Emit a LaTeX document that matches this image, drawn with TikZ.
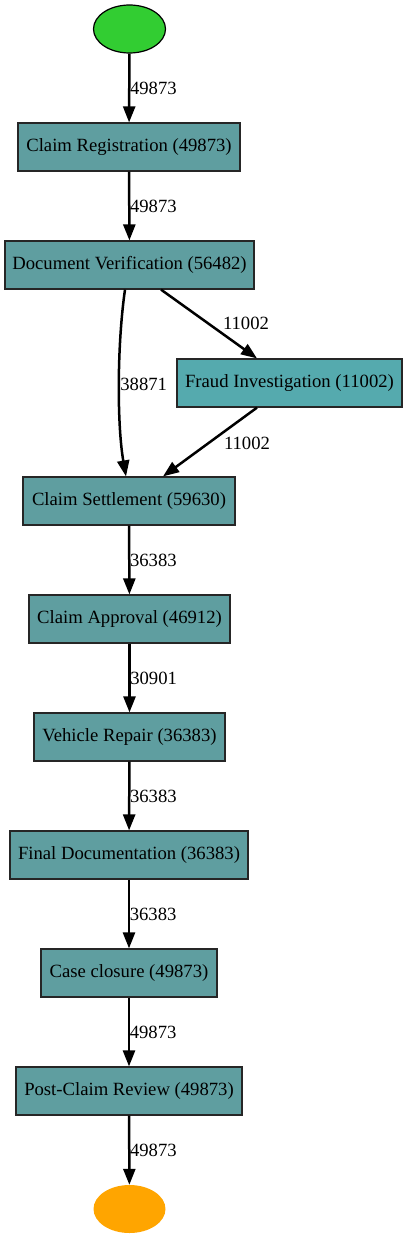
\documentclass[tikz,border=0pt]{standalone}
\usepackage{fontspec}
\setmainfont{Liberation Serif}
\usetikzlibrary{arrows.meta,shapes.geometric}
\definecolor{cadet}{HTML}{5F9EA0}
\definecolor{fraudc}{HTML}{55AAAE}
\definecolor{startc}{HTML}{32CD32}
\definecolor{endc}{HTML}{FFA500}
\begin{document}
\begin{tikzpicture}[x=1pt,y=-1pt,
  font=\fontsize{18.67}{22}\selectfont,
  act/.style={draw=black!85,line width=1.2pt,fill=cadet,minimum height=48pt,inner sep=0pt,text=black},
  flow/.style={line width=2.5pt,-{Triangle[length=16pt,width=12pt]}},
  lab/.style={inner sep=0pt,anchor=west}]
\useasboundingbox (0,0) rectangle (407,1239);
\node[ellipse,draw=black,line width=1.2pt,fill=startc,minimum width=72pt,minimum height=48pt,inner sep=0pt] (start) at (129.5,29) {};
\node[act,minimum width=222pt] (cr) at (129,147) {Claim Registration (49873)};
\node[act,minimum width=249pt] (dv) at (129.5,265) {Document Verification (56482)};
\node[act,fill=fraudc,minimum width=225pt] (fi) at (289.5,383) {Fraud Investigation (11002)};
\node[act,minimum width=212pt] (cs) at (129,501) {Claim Settlement (59630)};
\node[act,minimum width=201pt] (ca) at (129.5,619) {Claim Approval (46912)};
\node[act,minimum width=191pt] (vr) at (129.5,737) {Vehicle Repair (36383)};
\node[act,minimum width=238pt] (fd) at (129,855) {Final Documentation (36383)};
\node[act,minimum width=176pt] (cc) at (129,973) {Case closure (49873)};
\node[act,minimum width=226pt] (pcr) at (129,1091) {Post-Claim Review (49873)};
\node[ellipse,fill=endc,minimum width=72pt,minimum height=48pt,inner sep=0pt] (end) at (129.5,1209) {};

\draw[flow] (start) -- (cr) node[lab,pos=0.5,xshift=-0.5pt] {49873};
\draw[flow] (cr) -- (dv) node[lab,pos=0.5,xshift=-0.5pt] {49873};
\draw[flow] ([xshift=-4.5pt]dv.south) .. controls (117,345) and (117,425) .. ([xshift=-3pt]cs.north) node[lab,pos=0.5,xshift=0pt] {38871};
\draw[flow] ([xshift=31.5pt]dv.south) -- ([xshift=-32.5pt]fi.north) node[pos=0.5,xshift=37pt,yshift=1pt,inner sep=0pt] {11002};
\draw[flow] ([xshift=-32.5pt]fi.south) -- ([xshift=34pt]cs.north) node[pos=0.5,xshift=37pt,yshift=-1pt,inner sep=0pt] {11002};
\draw[flow] (cs) -- (ca) node[lab,pos=0.5,xshift=-0.5pt] {36383};
\draw[flow] (ca) -- (vr) node[lab,pos=0.5,xshift=-0.5pt] {30901};
\draw[flow] (vr) -- (fd) node[lab,pos=0.5,xshift=-0.5pt] {36383};
\draw[flow] (fd) -- (cc) node[lab,pos=0.5,xshift=-0.5pt] {36383};
\draw[flow] (cc) -- (pcr) node[lab,pos=0.5,xshift=-0.5pt] {49873};
\draw[flow] (pcr) -- (end) node[lab,pos=0.5,xshift=-0.5pt] {49873};
\end{tikzpicture}
\end{document}
